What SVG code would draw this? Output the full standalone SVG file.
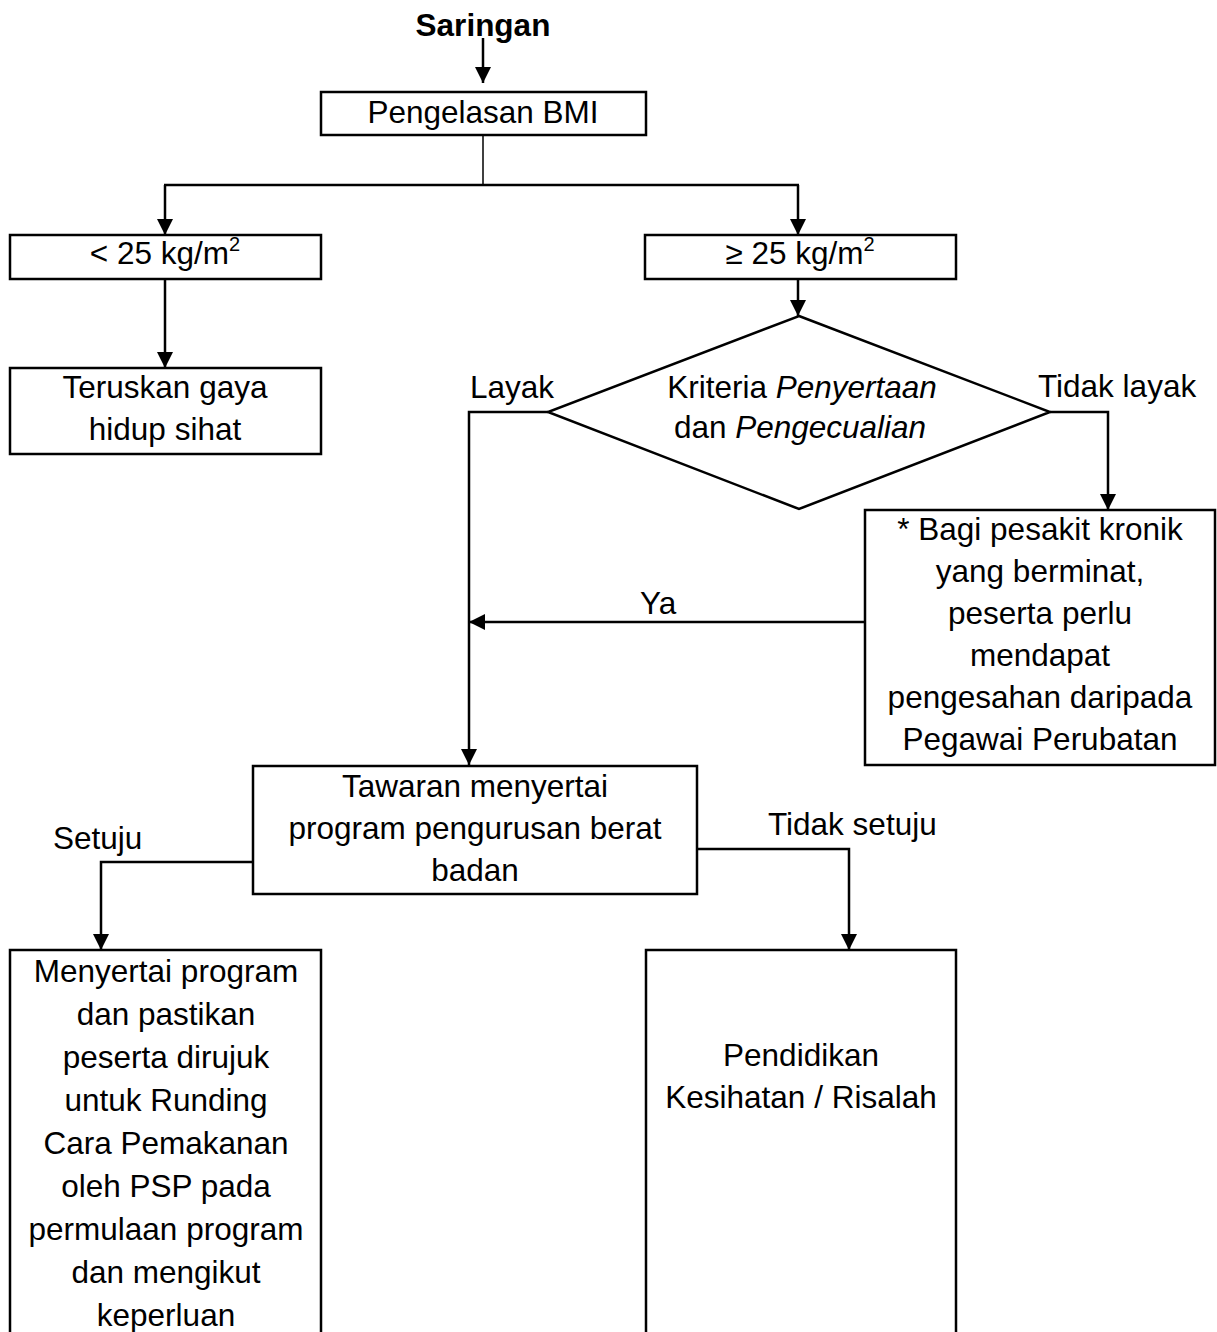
<svg xmlns="http://www.w3.org/2000/svg" width="1217" height="1332" viewBox="0 0 1217 1332">
<defs>
<marker id="ah" markerUnits="userSpaceOnUse" markerWidth="16" markerHeight="16" refX="16" refY="8" orient="auto">
<path d="M0,0 L16,8 L0,16 z" fill="#000"/>
</marker>
<style>
text{font-family:"Liberation Sans",Arial,sans-serif;font-size:31.5px;fill:#000}
.c{text-anchor:middle}
.b{font-weight:bold}
.box{fill:#fff;stroke:#000;stroke-width:2.5}
.ln{fill:none;stroke:#000;stroke-width:2.5}
.arr{fill:none;stroke:#000;stroke-width:2.5;marker-end:url(#ah)}
.sup{font-size:20px}
</style>
</defs>
<rect width="1217" height="1332" fill="#fff"/>
<g id="connectors">
<line class="arr" x1="483" y1="38" x2="483" y2="83"/>
<line x1="483" y1="135" x2="483" y2="185" stroke="#000" stroke-width="1.5"/>
<line class="ln" x1="164" y1="185" x2="799" y2="185"/>
<line class="arr" x1="165" y1="185" x2="165" y2="235"/>
<line class="arr" x1="798" y1="185" x2="798" y2="235"/>
<line class="arr" x1="165" y1="279" x2="165" y2="368"/>
<line class="arr" x1="798" y1="279" x2="798" y2="316"/>
<polyline class="arr" points="548,412 469,412 469,765"/>
<polyline class="arr" points="1050,412 1108,412 1108,510"/>
<line class="arr" x1="865" y1="622" x2="469" y2="622"/>
<polyline class="arr" points="253,862 101,862 101,950"/>
<polyline class="arr" points="697,849 849,849 849,950"/>
</g>
<g id="n-saringan"><text class="c b" x="483" y="36">Saringan</text></g>
<g id="n-bmi"><rect class="box" x="321" y="92" width="325" height="43"/><text class="c" x="483" y="123">Pengelasan BMI</text></g>
<g id="n-lt25"><rect class="box" x="10" y="235" width="311" height="44"/><text class="c" x="165" y="264">&lt; 25 kg/m<tspan class="sup" dy="-13">2</tspan></text></g>
<g id="n-ge25"><rect class="box" x="645" y="235" width="311" height="44"/><text class="c" x="800" y="264">≥ 25 kg/m<tspan class="sup" dy="-13">2</tspan></text></g>
<g id="n-teruskan"><rect class="box" x="10" y="368" width="311" height="86"/><text class="c" x="165" y="398">Teruskan gaya</text><text class="c" x="165" y="440">hidup sihat</text></g>
<g id="n-kriteria"><polygon class="box" points="799,316 1050,412 799,509 548,412"/><text class="c" x="802" y="398">Kriteria <tspan font-style="italic">Penyertaan</tspan></text><text class="c" x="800" y="438">dan <tspan font-style="italic">Pengecualian</tspan></text></g>
<g id="l-layak"><text x="470" y="398">Layak</text></g>
<g id="l-tidaklayak"><text x="1038" y="397">Tidak layak</text></g>
<g id="n-kronik"><rect class="box" x="865" y="510" width="350" height="255"/>
<text class="c" x="1040" y="540">* Bagi pesakit kronik</text>
<text class="c" x="1040" y="582">yang berminat,</text>
<text class="c" x="1040" y="624">peserta perlu</text>
<text class="c" x="1040" y="666">mendapat</text>
<text class="c" x="1040" y="708">pengesahan daripada</text>
<text class="c" x="1040" y="750">Pegawai Perubatan</text></g>
<g id="l-ya"><text x="640" y="614">Ya</text></g>
<g id="n-tawaran"><rect class="box" x="253" y="766" width="444" height="128"/>
<text class="c" x="475" y="797">Tawaran menyertai</text>
<text class="c" x="475" y="839">program pengurusan berat</text>
<text class="c" x="475" y="881">badan</text></g>
<g id="l-setuju"><text x="53" y="849">Setuju</text></g>
<g id="l-tidaksetuju"><text x="768" y="835">Tidak setuju</text></g>
<g id="n-menyertai"><rect class="box" x="10" y="950" width="311" height="400"/>
<text class="c" x="166" y="982">Menyertai program</text>
<text class="c" x="166" y="1025">dan pastikan</text>
<text class="c" x="166" y="1068">peserta dirujuk</text>
<text class="c" x="166" y="1111">untuk Runding</text>
<text class="c" x="166" y="1154">Cara Pemakanan</text>
<text class="c" x="166" y="1197">oleh PSP pada</text>
<text class="c" x="166" y="1240">permulaan program</text>
<text class="c" x="166" y="1283">dan mengikut</text>
<text class="c" x="166" y="1326">keperluan</text></g>
<g id="n-pendidikan"><rect class="box" x="646" y="950" width="310" height="400"/>
<text class="c" x="801" y="1066">Pendidikan</text>
<text class="c" x="801" y="1108">Kesihatan / Risalah</text></g>
</svg>
